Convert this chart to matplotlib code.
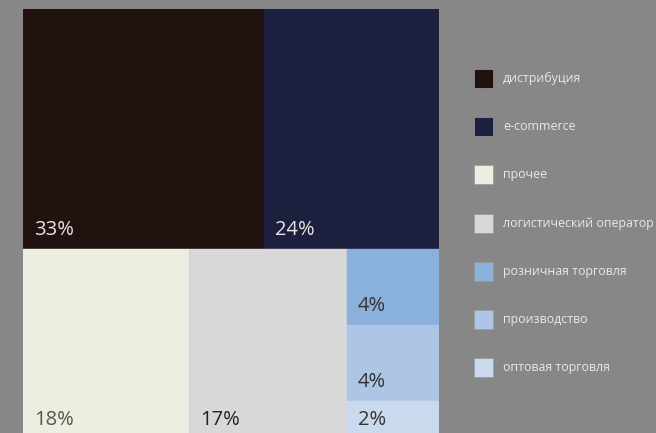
import matplotlib
matplotlib.use("Agg")
import matplotlib.pyplot as plt
from matplotlib.patches import Rectangle

plt.rcParams['font.family'] = ['Open Sans', 'DejaVu Sans']

categories = ["дистрибуция", "e-commerce", "прочее", "логистический оператор",
              "розничная торговля", "производство", "оптовая торговля"]
values = [33, 24, 18, 17, 4, 4, 2]
colors = ["#211210", "#1c1f3e", "#eceee0", "#d8d8d8", "#8ab0dc", "#adc6e6", "#c9d9ee"]
label_colors = ["#e6e6e6", "#e6e6e6", "#555555", "#222222", "#333333", "#333333", "#333333"]
bg = "#878787"

fig = plt.figure(figsize=(6.56, 4.33), dpi=100, facecolor=bg)

# treemap layout: top row [0,1], bottom row [2,3, column(4,5,6)]
W, H = 416.0, 429.5
ax = fig.add_axes([23/656, (433 - 9 - H)/433, W/656, H/433])
ax.set_facecolor(bg)
ax.set_xlim(0, 1)
ax.set_ylim(0, 1)
ax.axis("off")

total = sum(values)
top = values[0] + values[1]
bottom = total - top
h_top = top / total
h_bot = bottom / total

rects = []
x = 0
for i in (0, 1):
    w = values[i] / top
    rects.append((i, x, h_bot, w, h_top))
    x += w
x = 0
for i in (2, 3):
    w = values[i] / bottom
    rects.append((i, x, 0, w, h_bot))
    x += w
col_sum = values[4] + values[5] + values[6]
w = 1 - x
y = h_bot
for i in (4, 5, 6):
    h = values[i] / col_sum * h_bot
    rects.append((i, x, y - h, w, h))
    y -= h

for i, rx, ry, rw, rh in rects:
    ax.add_patch(Rectangle((rx, ry), rw, rh, facecolor=colors[i],
                           edgecolor=colors[i], linewidth=0.3))
    ax.annotate(f"{values[i]}%", xy=(rx, ry), xytext=(8, 10),
                textcoords="offset points", ha="left", va="baseline",
                fontsize=14.5, color=label_colors[i])

# legend
lx0 = 474 / 656
for k, cat in enumerate(categories):
    cy = 78.5 + k * 48.2
    sq = 19
    fig.patches.append(Rectangle((lx0, 1 - (cy + sq/2)/433), sq/656, sq/433,
                                 transform=fig.transFigure, facecolor=colors[k],
                                 edgecolor="#9a9a9a", linewidth=0.5))
    fig.text(503/656, 1 - cy/433, cat, ha="left", va="center",
             fontsize=8.9, color="#e8e8e8")

fig.savefig("out.png", dpi=100, facecolor=bg)
